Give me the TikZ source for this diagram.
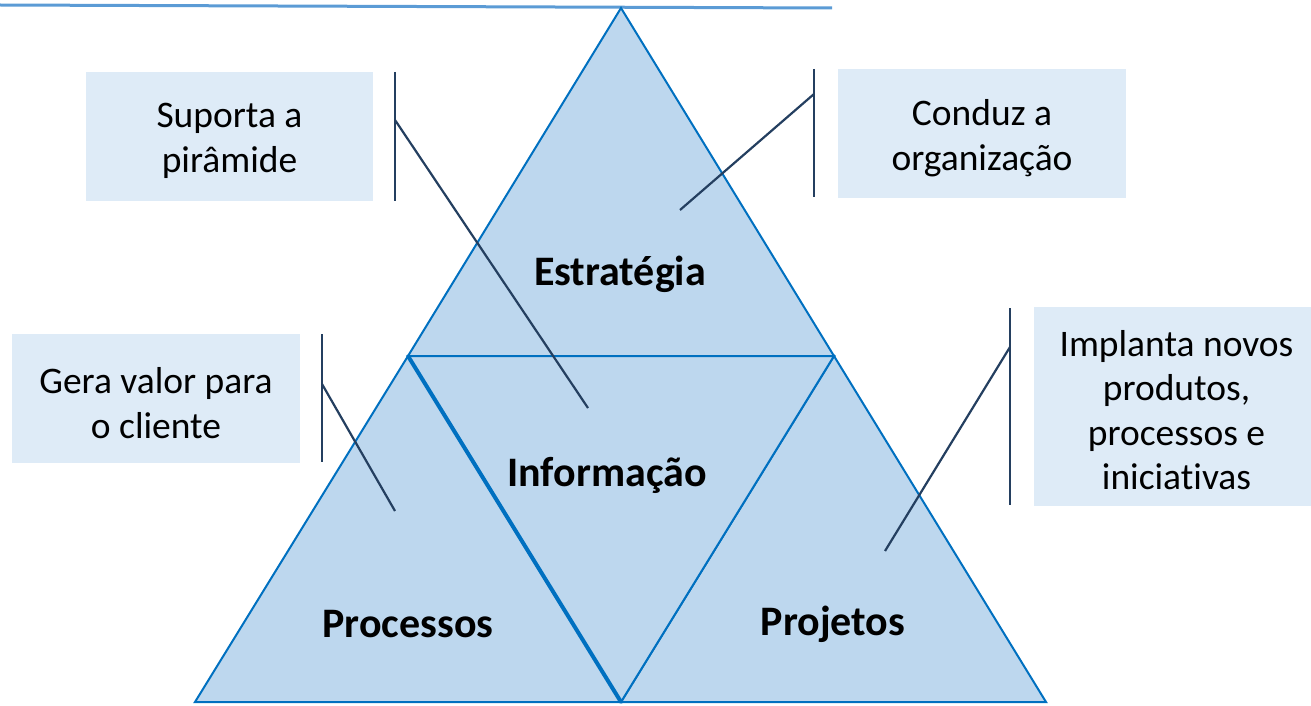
\documentclass[tikz,border=0pt]{standalone}
\usepackage{fontspec}
\setmainfont[Ligatures=NoCommon]{Carlito}
\definecolor{trifill}{HTML}{BDD7EE}
\definecolor{tristroke}{HTML}{0070C0}
\definecolor{boxfill}{HTML}{DEEBF7}
\definecolor{callline}{HTML}{243F60}
\definecolor{topline}{HTML}{5B9BD5}
\tikzset{
  tri/.style={fill=trifill,draw=tristroke,line width=2pt,line join=miter},
  callbox/.style={fill=boxfill,draw=none,inner sep=0pt},
  calltext/.style={inner sep=0pt,align=center,font=\fontsize{37.5}{44.5}\selectfont},
  callout/.style={draw=callline,line width=2.2pt},
  tlabel/.style={font=\fontsize{42}{50}\selectfont\bfseries,inner sep=0pt}
}
\begin{document}
\begin{tikzpicture}[x=1pt,y=-1pt]
\useasboundingbox (0,0) rectangle (1311,706);
% triangle vertices
\coordinate (apex) at (621,8);
\coordinate (ml) at (408,356);
\coordinate (mr) at (834,356);
\coordinate (bl) at (195,702);
\coordinate (bm) at (621,702);
\coordinate (br) at (1046,702);
% top line
\coordinate (tl0) at (0,5);
\coordinate (tl1) at (832,8);
\draw[topline,line width=3pt] (tl0) -- (tl1);
% triangles
\path[fill=trifill] (apex) -- (bl) -- (br) -- cycle;
\draw[tri] (apex) -- (ml) -- (mr) -- cycle;
\draw[tri] (ml) -- (bl) -- (bm) -- cycle;
\draw[tri] (mr) -- (bm) -- (br) -- cycle;
\draw[tri] (ml) -- (mr) -- (bm) -- cycle;
\draw[draw=tristroke,line width=4pt] (ml) -- (bm);
% labels
\node[tlabel] (estr) at (620,274) {Estratégia};
\node[tlabel] (info) at (607,475) {Informação};
\node[tlabel] (proc) at (408,624) {Processos};
\node[tlabel] (proj) at (833,624) {Projetos};
% callout boxes
\node[callbox,minimum width=287pt,minimum height=129pt] (b1) at (229.5,136.5) {};
\node[calltext] (t1) at (229.5,141) {Suporta a\\pirâmide};
\node[callbox,minimum width=288pt,minimum height=129pt] (b2) at (982,133.5) {};
\node[calltext] (t2) at (982,138) {Conduz a\\organização};
\node[callbox,minimum width=288pt,minimum height=129pt] (b3) at (156,398.5) {};
\node[calltext] (t3) at (156,403) {Gera valor para\\o cliente};
\node[callbox,minimum width=277pt,minimum height=199pt] (b4) at (1172.5,406) {};
\node[calltext] (t4) at (1176.5,410) {Implanta novos\\produtos,\\processos e\\iniciativas};
% callout lines
\coordinate (c1t) at (395,72); \coordinate (c1b) at (395,201);
\coordinate (c1k) at (395,120); \coordinate (c1e) at (588,408);
\draw[callout] (c1t) -- (c1b);
\draw[callout] (c1k) -- (c1e);
\coordinate (c2t) at (814,69); \coordinate (c2b) at (814,197);
\coordinate (c2k) at (814,94); \coordinate (c2e) at (680,210);
\draw[callout] (c2t) -- (c2b);
\draw[callout] (c2k) -- (c2e);
\coordinate (c3t) at (322,334); \coordinate (c3b) at (322,462);
\coordinate (c3k) at (322,384); \coordinate (c3e) at (395,511);
\draw[callout] (c3t) -- (c3b);
\draw[callout] (c3k) -- (c3e);
\coordinate (c4t) at (1010,308); \coordinate (c4b) at (1010,505);
\coordinate (c4k) at (1010,347); \coordinate (c4e) at (885,551);
\draw[callout] (c4t) -- (c4b);
\draw[callout] (c4k) -- (c4e);
\end{tikzpicture}
\end{document}
